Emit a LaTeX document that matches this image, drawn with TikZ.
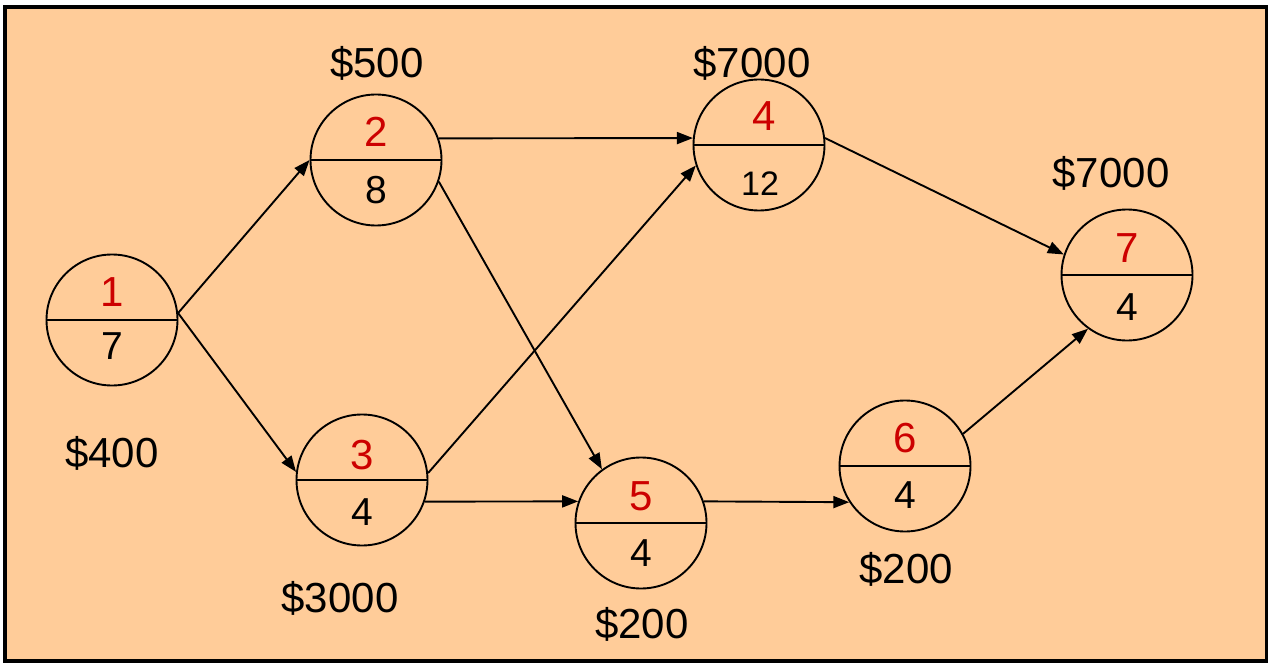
\documentclass[tikz,border=0pt]{standalone}
\usepackage{fontspec}
\setmainfont{Liberation Sans}
\usetikzlibrary{arrows.meta,positioning,calc}
\definecolor{peach}{HTML}{FFCC99}
\definecolor{numred}{HTML}{CC0000}
\definecolor{ink}{HTML}{000000}
\tikzset{
  evnode/.style={draw=ink,circle,line width=1.9pt,
                 minimum size=131pt,inner sep=0pt},
  topnum/.style={font=\fontsize{42}{42}\selectfont,text=numred,inner sep=0pt},
  botnum/.style={font=\fontsize{39}{39}\selectfont,text=ink,inner sep=0pt},
  costlbl/.style={font=\fontsize{42}{42}\selectfont,text=ink,inner sep=0pt},
  actarr/.style={-{Triangle[length=16pt,width=12pt]},line width=1.9pt,color=ink}
}

\begin{document}
\begin{tikzpicture}[x=1pt,y=-1pt]
  \useasboundingbox (0,0) rectangle (1268,663);
  \fill[white] (0,0) rectangle (1268,663);
  \draw[ink,fill=peach,line width=4pt] (5,7) rectangle (1267,661);
  \node[evnode] (n1) at (112,320) {};
  \node[evnode] (n2) at (376,160) {};
  \node[evnode] (n3) at (362,480) {};
  \node[evnode] (n4) at (759,145) {};
  \node[evnode] (n5) at (641,523) {};
  \node[evnode] (n6) at (905,466) {};
  \node[evnode] (n7) at (1127,275) {};
  \foreach \i in {1,...,7}
    \draw[ink,line width=1.9pt] (n\i.west) -- (n\i.east);
  \node[topnum] (t1) at (112,292) {1};
  \node[botnum] (b1) at (112,346) {7};
  \node[topnum] (t2) at (376,132) {2};
  \node[botnum] (b2) at (376,190) {8};
  \node[topnum] (t3) at (362,455) {3};
  \node[botnum] (b3) at (362,512) {4};
  \node[topnum] (t4) at (764,116) {4};
  \node[botnum,font=\fontsize{34}{34}\selectfont] (b4) at (760,184) {12};
  \node[topnum] (t5) at (641,496) {5};
  \node[botnum] (b5) at (641,553) {4};
  \node[topnum] (t6) at (905,438) {6};
  \node[botnum] (b6) at (905,495) {4};
  \node[topnum] (t7) at (1127,248) {7};
  \node[botnum] (b7) at (1127,307) {4};
  \node[costlbl] (c1) at (112,453) {\$400};
  \node[costlbl] (c2) at (377,63) {\$500};
  \node[costlbl] (c3) at (340,598) {\$3000};
  \node[costlbl] (c4) at (752,63) {\$7000};
  \node[costlbl] (c5) at (642,624) {\$200};
  \node[costlbl] (c6) at (906,569) {\$200};
  \node[costlbl] (c7) at (1111,173) {\$7000};
  \draw[actarr] (n1.6) -- (n2.west);
  \draw[actarr] (n1.6) -- (n3.173);
  \draw[actarr] (n2.19) -- (n4.174);
  \draw[actarr] (n2.-19) -- (n5.126);
  \draw[actarr] (n3.6) -- (n4.198);
  \draw[actarr] (n3.-19) -- (n5.161);
  \draw[actarr] (n5.19) -- (n6.213);
  \draw[actarr] (n4.6) -- (n7.162);
  \draw[actarr] (n6.29) -- (n7.234);
\end{tikzpicture}
\end{document}
